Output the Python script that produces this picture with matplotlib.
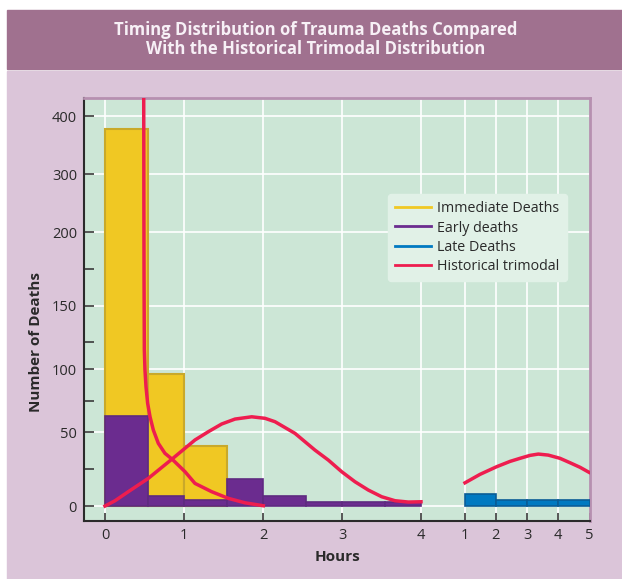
import numpy as np
import matplotlib.pyplot as plt
from matplotlib.patches import Rectangle
from matplotlib.lines import Line2D

plt.rcParams['font.family'] = ['Open Sans', 'DejaVu Sans']

# histogram bins: hours for the first part of the x axis, days for the second
immediate_edges = [0.0, 0.55, 1.0, 1.55]
immediate_deaths = [378, 96, 41]

early_edges = [0.0, 0.55, 1.0, 1.55, 2.0, 2.55, 3.0, 3.55, 4.0]
early_deaths = [63, 7, 4, 18, 7, 3, 3, 3]

late_edges = [1, 2, 3, 4, 5]
late_deaths = [8, 4, 4, 4]

# historical trimodal curve (three humps)
peak1_hours = [0.490, 0.491, 0.492, 0.494, 0.498, 0.506, 0.519, 0.54, 0.57,
               0.612, 0.675, 0.759, 0.852, 1.013, 1.139, 1.35, 1.561, 1.772, 2.004]
peak1_deaths = [440, 350, 250, 170, 117.8, 99.2, 86, 72.9, 62.3,
                51.8, 42.5, 35.7, 31.6, 23.2, 15.3, 9.7, 5.2, 2.2, 0.2]

peak2_hours = [0.0, 0.127, 0.295, 0.548, 0.844, 1.139, 1.308, 1.477, 1.646,
               1.857, 2.025, 2.152, 2.405, 2.658, 2.827, 2.996, 3.165, 3.333,
               3.502, 3.671, 3.84, 4.0]
peak2_deaths = [0, 3.6, 9.7, 18.7, 31.6, 44.8, 50.5, 56.6, 60.5,
                62.3, 61.1, 58.4, 49.3, 37.9, 31.1, 23.2, 16.4, 10.8,
                6.3, 3.6, 2.7, 2.9]

peak3_days = [1.016, 1.496, 2.03, 2.456, 2.776, 3.096, 3.362, 3.68, 4.056,
              4.376, 4.696, 4.984]
peak3_deaths = [15.7, 21.4, 26.6, 30.2, 32.3, 34.3, 35.2, 34.5, 32.3,
                29.3, 26.2, 22.8]

hour_ticks = [0, 1, 2, 3, 4]
day_ticks = [1, 2, 3, 4, 5]
y_major = [0, 50, 100, 150, 200, 300, 400]
y_minor = [25, 75, 125, 175]

# colours
c_imm = '#f0c823'
c_early = '#6b2c8f'
c_late = '#0079c1'
c_hist = '#ee1d4f'


def day_pos(d):
    # the days part sits to the right of the 4 hour mark on the same axis
    return 4 + 43.5 / 79 + (np.asarray(d, dtype=float) - 1) * 31.25 / 79


# the value axis is stretched unevenly, as in the original
y_vals = [-100, 0, 25, 50, 75, 100, 125, 150, 175, 200, 300, 400, 1000]
y_pos = [-148, 0, 37, 73.7, 105.3, 137, 163.7, 200.3, 237, 273.7, 331.7, 390, 738]


def fwd(v):
    return np.interp(v, y_vals, y_pos)


def inv(p):
    return np.interp(p, y_pos, y_vals)


fig = plt.figure(figsize=(6.22, 5.79), dpi=100)
fig.patch.set_facecolor('white')
fig.patches.append(Rectangle((7 / 622, 0), 1, (579 - 71) / 579,
                             transform=fig.transFigure, color='#dbc5d9', zorder=-10))
fig.patches.append(Rectangle((7 / 622, 1 - 69 / 579), 1, 59 / 579,
                             transform=fig.transFigure, color='#a0718f', zorder=-10))
fig.text(0.508, 1 - 30 / 579, 'Timing Distribution of Trauma Deaths Compared',
         ha='center', va='center', color='#f7f0f6', fontsize=12, fontweight='bold')
fig.text(0.508, 1 - 49 / 579, 'With the Historical Trimodal Distribution',
         ha='center', va='center', color='#f7f0f6', fontsize=12, fontweight='bold')

ax = fig.add_axes([84 / 622, 1 - 521 / 579, 506 / 622, 423.5 / 579])
ax.set_facecolor('#cce6d6')
ax.set_yscale('function', functions=(fwd, inv))

ax.bar(immediate_edges[:-1], immediate_deaths, width=np.diff(immediate_edges),
       align='edge', color=c_imm, edgecolor='#c9a92a', linewidth=1.5, zorder=2)
ax.bar(early_edges[:-1], early_deaths, width=np.diff(early_edges),
       align='edge', color=c_early, edgecolor='#5e2a80', linewidth=1.2, zorder=3)
ax.bar(day_pos(late_edges[:-1]), late_deaths, width=np.diff(day_pos(late_edges)),
       align='edge', color=c_late, edgecolor='#0a5d96', linewidth=1.2, zorder=3)

for xs, ys in [(peak1_hours, peak1_deaths), (peak2_hours, peak2_deaths),
               (day_pos(peak3_days), peak3_deaths)]:
    ax.plot(xs, ys, color=c_hist, lw=2.5, zorder=4, solid_joinstyle='round')

ax.set_xlim(-21 / 79, (590 - 105) / 79)
ax.set_ylim(-10.1, 431.9)

xt = list(hour_ticks) + list(day_pos(day_ticks))
ax.set_xticks(xt)
ax.set_xticklabels([str(h) for h in hour_ticks] + [str(d) for d in day_ticks])
ax.set_yticks(y_major)
ax.set_yticklabels([str(v) for v in y_major])
ax.set_yticks(y_minor, minor=True)
ax.xaxis.set_minor_locator(plt.NullLocator())

ax.tick_params(axis='both', which='both', direction='in', color='#3a3a3a',
               labelcolor='#2a2a2a', labelsize=10.5)
ax.tick_params(axis='y', which='major', length=7, width=1.2, pad=5)
ax.tick_params(axis='y', which='minor', length=7, width=1.2)
ax.tick_params(axis='x', length=6, width=1.2, pad=5)

ax.set_axisbelow(True)
for x in xt[:-1]:
    ax.axvline(x, color='white', lw=1.2, zorder=0.3)
for y in y_major:
    ax.axhline(y, color='white', lw=1.2, zorder=0.3)

for side in ['left', 'bottom']:
    ax.spines[side].set_color('#2b2b2b')
    ax.spines[side].set_linewidth(1.5)
for side in ['top', 'right']:
    ax.spines[side].set_color('#b690b0')
    ax.spines[side].set_linewidth(2)

ax.set_xlabel('Hours', fontsize=11, fontweight='bold', color='#2a2a2a', labelpad=5)
fig.text(36 / 622, 1 - 342 / 579, 'Number of Deaths', rotation=90, ha='center',
         va='center', fontsize=11, fontweight='bold', color='#2a2a2a')

handles = [Line2D([], [], color=c_imm, lw=2),
           Line2D([], [], color=c_early, lw=2),
           Line2D([], [], color=c_late, lw=2),
           Line2D([], [], color=c_hist, lw=2)]
labels = ['Immediate Deaths', 'Early deaths', 'Late Deaths', 'Historical trimodal']
leg = ax.legend(handles, labels, loc='upper left', bbox_to_anchor=(0.601, 0.772),
                fontsize=10.3, frameon=True, fancybox=True, handlelength=2.5,
                handletextpad=0.45, labelspacing=0.3, borderpad=0.5,
                borderaxespad=0)
leg.get_frame().set_facecolor('#e1f1e7')
leg.get_frame().set_edgecolor('#e1f1e7')
leg.get_frame().set_alpha(1)
for t in leg.get_texts():
    t.set_color('#2a2a2a')

plt.savefig('out.png', dpi=100)
